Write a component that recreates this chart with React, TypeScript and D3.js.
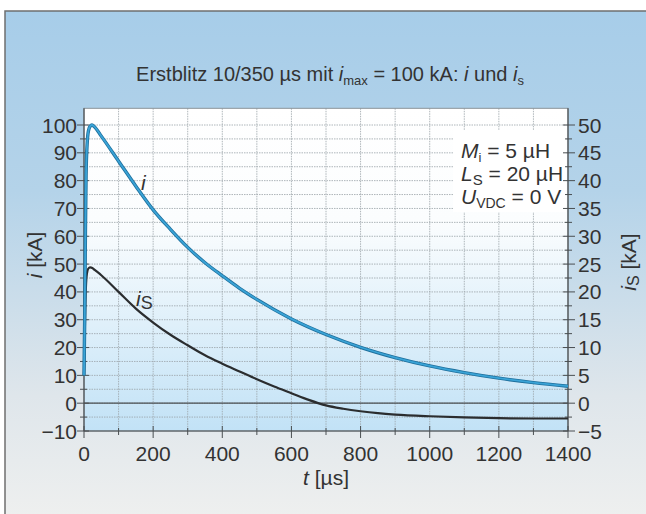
import React from "react";
import * as d3 from "d3";

const tValues = [0, 2, 4, 6, 9, 13, 18, 23, 30, 50, 100, 150, 200, 250, 300, 350, 400, 450, 500, 600, 700, 800, 900, 1000, 1100, 1200, 1300, 1400];
const iValues = [10, 30, 60, 82, 93, 98, 99.6, 100, 99.4, 96, 87, 78, 69.5, 62.5, 56, 50.5, 45.8, 41.3, 37.3, 30.3, 24.7, 20.1, 16.4, 13.4, 11, 9, 7.4, 6.1];
const isT = [0, 2, 4, 7, 10, 14, 18, 24, 30, 50, 100, 150, 200, 250, 300, 350, 400, 450, 500, 550, 600, 650, 700, 750, 800, 850, 900, 1000, 1100, 1200, 1300, 1400];
const isValues = [5, 12, 18, 22.5, 23.8, 24.3, 24.4, 24.3, 24, 23, 20, 17, 14.5, 12.3, 10.4, 8.6, 7.1, 5.7, 4.3, 3.0, 1.8, 0.6, -0.4, -1.0, -1.45, -1.8, -2.05, -2.35, -2.55, -2.7, -2.75, -2.75];
const xTicks = [0, 200, 400, 600, 800, 1000, 1200, 1400];
const yLeftTicks = [-10, 0, 10, 20, 30, 40, 50, 60, 70, 80, 90, 100];
const yRightTicks = [-5, 0, 5, 10, 15, 20, 25, 30, 35, 40, 45, 50];

const W = 646, H = 514;
const FONT = "'Liberation Sans', Arial, Helvetica, sans-serif";

export default function App() {
  const x = d3.scaleLinear().domain([0, 1400]).range([84, 568]);
  const yL = d3.scaleLinear().domain([-10, 100]).range([431, 125]);
  const yR = d3.scaleLinear().domain([-5, 50]).range([431, 125]);
  const top = yL(106);
  const bottom = yL(-10);

  const lineI = d3.line<number>().x((_, k) => x(tValues[k])).y((d) => yL(d)).curve(d3.curveMonotoneX);
  const lineIs = d3.line<number>().x((_, k) => x(isT[k])).y((d) => yR(d)).curve(d3.curveMonotoneX);

  const hGrid = d3.range(-5, 101, 5);
  const vGrid = d3.range(100, 1400, 100);
  const minorL = d3.range(-5, 101, 10);
  const minorR = d3.range(-2.5, 50, 5);
  const minorX = d3.range(100, 1400, 200);

  return (
    <div style={{ position: "fixed", left: 0, top: 0 }}>
      <svg width={W} height={H} style={{ display: "block", fontFamily: FONT }}>
        <defs>
          <linearGradient id="outer" x1="0" y1="0" x2="0" y2="1">
            <stop offset="0" stopColor="#a7cde9" />
            <stop offset="0.35" stopColor="#b4d3e9" />
            <stop offset="0.75" stopColor="#dfe6eb" />
            <stop offset="1" stopColor="#eff0ef" />
          </linearGradient>
          <linearGradient id="inner" x1="0" y1="0" x2="0" y2="1">
            <stop offset="0" stopColor="#ffffff" />
            <stop offset="0.35" stopColor="#fbfdfe" />
            <stop offset="1" stopColor="#c2e2f6" />
          </linearGradient>
        </defs>
        <rect x={0} y={0} width={W} height={H} fill="#ffffff" />
        <rect x={5} y={11} width={W} height={H} fill="url(#outer)" stroke="#6f6f6f" strokeWidth={1.5} />
        <rect x={x(0)} y={top} width={x(1400) - x(0)} height={bottom - top} fill="url(#inner)" />

        {/* grid */}
        {hGrid.map((v) => (
          <line key={"h" + v} x1={x(0)} x2={x(1400)} y1={yL(v)} y2={yL(v)} stroke="#9aa3a8" strokeWidth={0.8} strokeDasharray="1.5,1" />
        ))}
        {vGrid.map((v) => (
          <line key={"v" + v} x1={x(v)} x2={x(v)} y1={top} y2={bottom} stroke="#9aa3a8" strokeWidth={0.8} strokeDasharray="1.5,1" />
        ))}
        <rect x={x(0)} y={top} width={x(1400) - x(0)} height={bottom - top} fill="none" stroke="#8c9499" strokeWidth={1} />

        {/* legend box */}
        <rect x={453} y={130} width={113} height={82} fill="#ffffff" />

        {/* zero line */}
        <line x1={x(0)} x2={x(1400)} y1={yL(0)} y2={yL(0)} stroke="#4a4f52" strokeWidth={1.3} />

        {/* axes */}
        <line x1={x(0)} x2={x(0)} y1={top} y2={bottom} stroke="#4a4f52" strokeWidth={1.2} />
        <line x1={x(1400)} x2={x(1400)} y1={top} y2={bottom} stroke="#4a4f52" strokeWidth={1.2} />
        <line x1={x(0)} x2={x(1400)} y1={bottom} y2={bottom} stroke="#4a4f52" strokeWidth={1.2} />

        {yLeftTicks.map((v) => (
          <g key={"yl" + v}>
            <line x1={x(0) - 7} x2={x(0) + 5} y1={yL(v)} y2={yL(v)} stroke="#4a4f52" strokeWidth={1} />
            <text x={x(0) - 7} y={yL(v)} dy="0.36em" textAnchor="end" fontSize={21} fill="#333">
              {v < 0 ? "\u2212" + Math.abs(v) : v}
            </text>
          </g>
        ))}
        {minorL.map((v) => (
          <line key={"ml" + v} x1={x(0) - 4} x2={x(0) + 3} y1={yL(v)} y2={yL(v)} stroke="#4a4f52" strokeWidth={1} />
        ))}
        {yRightTicks.map((v) => (
          <g key={"yr" + v}>
            <line x1={x(1400) - 5} x2={x(1400) + 7} y1={yR(v)} y2={yR(v)} stroke="#4a4f52" strokeWidth={1} />
            <text x={x(1400) + 10} y={yR(v)} dy="0.36em" textAnchor="start" fontSize={21} fill="#333">
              {v < 0 ? "\u2212" + Math.abs(v) : v}
            </text>
          </g>
        ))}
        {minorR.map((v) => (
          <line key={"mr" + v} x1={x(1400) - 3} x2={x(1400) + 4} y1={yR(v)} y2={yR(v)} stroke="#4a4f52" strokeWidth={1} />
        ))}
        {xTicks.map((v) => (
          <g key={"xt" + v}>
            <line x1={x(v)} x2={x(v)} y1={bottom - 5} y2={bottom + 7} stroke="#4a4f52" strokeWidth={1} />
            <text x={x(v)} y={bottom + 30} textAnchor="middle" fontSize={21} fill="#333">{v}</text>
          </g>
        ))}
        {minorX.map((v) => (
          <line key={"mx" + v} x1={x(v)} x2={x(v)} y1={bottom - 3} y2={bottom + 4} stroke="#4a4f52" strokeWidth={1} />
        ))}

        {/* curves */}
        <path d={lineIs(isValues) || ""} fill="none" stroke="#2b2d2f" strokeWidth={2.2} strokeLinejoin="round" />
        <path d={lineI(iValues) || ""} fill="none" stroke="#1e6f9c" strokeWidth={3.4} strokeLinejoin="round" />
        <path d={lineI(iValues) || ""} fill="none" stroke="#3aa3d6" strokeWidth={1.8} strokeLinejoin="round" />

        {/* curve labels */}
        <text x={141} y={190} fontSize={21} fontStyle="italic" fill="#333">i</text>
        <text x={136} y={306} fontSize={21} fill="#333">
          <tspan fontStyle="italic">i</tspan>
          <tspan fontSize={18} dy={3}>S</tspan>
        </text>

        {/* legend */}
        <g fontSize={21} fill="#333">
          <text x={461} y={158}>
            <tspan fontStyle="italic">M</tspan>
            <tspan fontSize={13} dy={4}>i</tspan>
            <tspan dy={-4}> = 5 µH</tspan>
          </text>
          <text x={461} y={181}>
            <tspan fontStyle="italic">L</tspan>
            <tspan fontSize={15} dy={4}>S</tspan>
            <tspan dy={-4}> = 20 µH</tspan>
          </text>
          <text x={461} y={204}>
            <tspan fontStyle="italic">U</tspan>
            <tspan fontSize={14} dy={4}>VDC</tspan>
            <tspan dy={-4}> = 0 V</tspan>
          </text>
        </g>

        {/* title */}
        <text x={330} y={81} textAnchor="middle" fontSize={20} fill="#333">
          <tspan>Erstblitz 10/350 µs mit </tspan>
          <tspan fontStyle="italic">i</tspan>
          <tspan fontSize={13} dy={4}>max</tspan>
          <tspan dy={-4}> = 100 kA: </tspan>
          <tspan fontStyle="italic">i</tspan>
          <tspan> und </tspan>
          <tspan fontStyle="italic">i</tspan>
          <tspan fontSize={13} dy={4}>s</tspan>
        </text>

        {/* axis labels */}
        <text x={326} y={485} textAnchor="middle" fontSize={21} fill="#333">
          <tspan fontStyle="italic">t</tspan>
          <tspan> [µs]</tspan>
        </text>
        <text transform="translate(42,255) rotate(-90)" textAnchor="middle" fontSize={21} fill="#333">
          <tspan fontStyle="italic">i</tspan>
          <tspan> [kA]</tspan>
        </text>
        <text transform="translate(636,262) rotate(-90)" textAnchor="middle" fontSize={21} fill="#333">
          <tspan fontStyle="italic">i</tspan>
          <tspan fontSize={16} dy={3}>S</tspan>
          <tspan dy={-3}> [kA]</tspan>
        </text>
      </svg>
    </div>
  );
}
